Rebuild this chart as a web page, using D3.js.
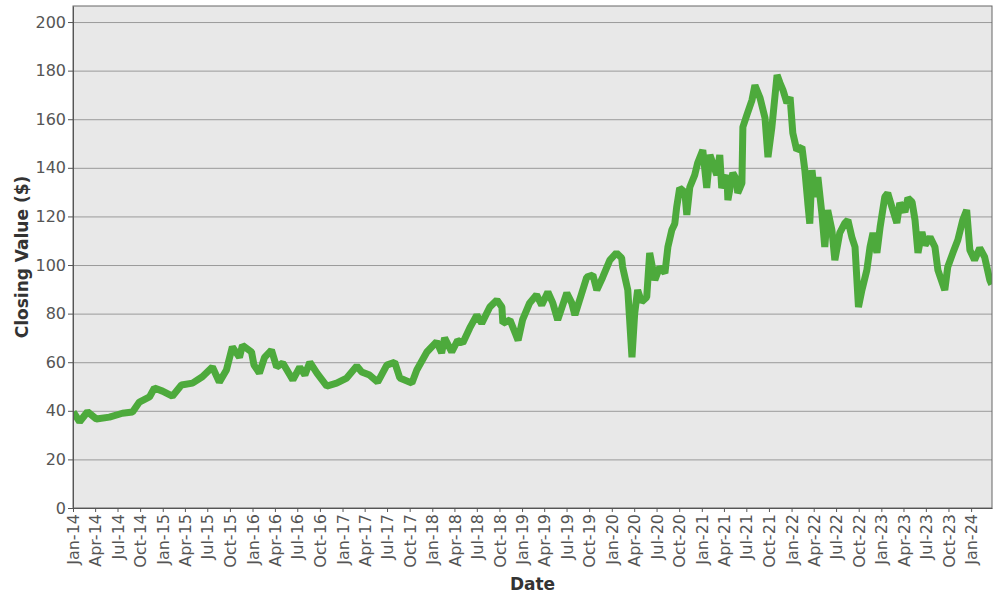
<!DOCTYPE html>
<html>
<head>
<meta charset="utf-8">
<script src="https://cdn.jsdelivr.net/npm/d3@7"></script>
<style>
  body { margin: 0; background: #fff; }
  .grid line { stroke: #9a9a9a; stroke-width: 1; }
  .grid path { stroke: none; }
  .axis text { font-family: "DejaVu Sans", sans-serif; font-size: 16px; fill: #555; }
  .axis path, .axis line { stroke: #555; }
  .title { font-family: "DejaVu Sans", sans-serif; font-size: 17px; font-weight: bold; fill: #333; }
  .line { fill: none; stroke: #4daa3c; stroke-width: 7; stroke-linejoin: bevel; }
</style>
</head>
<body>
<div id="graph"></div>
<script>
// closing values
var dates = [
  "2014-01-02", "2014-01-28", "2014-03-01", "2014-04-06", "2014-05-29", "2014-07-21", "2014-08-31",
  "2014-09-28", "2014-11-08", "2014-11-28", "2014-12-31", "2015-02-09", "2015-03-18", "2015-05-02",
  "2015-06-11", "2015-07-22", "2015-08-19", "2015-09-17", "2015-10-11", "2015-11-09", "2015-11-21",
  "2015-12-28", "2016-01-07", "2016-01-29", "2016-02-19", "2016-03-18", "2016-04-08", "2016-05-03",
  "2016-06-13", "2016-07-11", "2016-08-01", "2016-08-21", "2016-09-19", "2016-10-29", "2016-12-08",
  "2017-01-18", "2017-02-28", "2017-03-20", "2017-04-21", "2017-05-24", "2017-06-30", "2017-08-01",
  "2017-08-22", "2017-10-10", "2017-10-30", "2017-12-10", "2018-01-19", "2018-02-08", "2018-02-20",
  "2018-03-21", "2018-04-14", "2018-05-05", "2018-06-02", "2018-07-01", "2018-07-21", "2018-08-23",
  "2018-09-21", "2018-10-11", "2018-10-15", "2018-11-13", "2018-12-04", "2018-12-16", "2019-01-03",
  "2019-02-01", "2019-03-01", "2019-03-22", "2019-04-16", "2019-05-06", "2019-05-26", "2019-07-02",
  "2019-07-22", "2019-08-04", "2019-09-01", "2019-09-21", "2019-10-16", "2019-11-01", "2019-11-25",
  "2019-12-24", "2020-01-20", "2020-02-10", "2020-02-14", "2020-03-06", "2020-03-23", "2020-04-03",
  "2020-04-15", "2020-05-01", "2020-05-22", "2020-06-03", "2020-06-24", "2020-07-14", "2020-08-04",
  "2020-08-16", "2020-09-01", "2020-09-13", "2020-09-21", "2020-10-03", "2020-10-24", "2020-11-01",
  "2020-11-13", "2020-12-03", "2020-12-15", "2021-01-05", "2021-01-21", "2021-02-03", "2021-03-03",
  "2021-03-15", "2021-03-23", "2021-04-13", "2021-04-17", "2021-05-07", "2021-05-23", "2021-05-27",
  "2021-06-13", "2021-06-17", "2021-07-03", "2021-07-24", "2021-08-05", "2021-08-26", "2021-09-15",
  "2021-09-27", "2021-10-13", "2021-11-03", "2021-11-15", "2021-11-27", "2021-12-13", "2021-12-26",
  "2022-01-06", "2022-01-22", "2022-02-12", "2022-02-24", "2022-03-08", "2022-03-16", "2022-03-25",
  "2022-04-06", "2022-04-18", "2022-05-04", "2022-05-16", "2022-05-28", "2022-06-14", "2022-06-26",
  "2022-07-16", "2022-08-06", "2022-08-18", "2022-09-03", "2022-09-16", "2022-09-30", "2022-10-14",
  "2022-11-03", "2022-11-16", "2022-11-28", "2022-12-14", "2022-12-27", "2023-01-15", "2023-01-27",
  "2023-02-13", "2023-03-05", "2023-03-17", "2023-04-07", "2023-04-19", "2023-05-06", "2023-05-18",
  "2023-05-30", "2023-06-15", "2023-06-28", "2023-07-18", "2023-08-07", "2023-08-19", "2023-09-16",
  "2023-09-28", "2023-10-19", "2023-11-08", "2023-11-28", "2023-12-14", "2023-12-27", "2024-01-15",
  "2024-02-05", "2024-02-25", "2024-03-17", "2024-03-25"
];
var closes = [
  39.5, 35.5, 39.6, 36.6, 37.4, 39.0, 39.5,
  43.6, 45.7, 49.4, 48.1, 46.0, 50.6, 51.4,
  54.0, 58.0, 51.8, 56.8, 66.3, 62.0, 67.0,
  64.2, 58.8, 55.5, 62.0, 65.0, 58.0, 59.7,
  52.7, 58.0, 54.7, 60.0, 55.5, 50.2, 51.4,
  53.5, 58.4, 56.0, 54.7, 51.8, 58.8, 60.0,
  53.5, 51.4, 56.8, 64.2, 68.5, 63.8, 70.0,
  64.2, 69.0, 67.9, 74.0, 79.4, 76.0, 82.7,
  85.6, 82.7, 76.0, 77.4, 72.0, 69.0, 77.4,
  84.4, 87.7, 83.5, 88.9, 84.4, 77.4, 88.5,
  84.4, 79.4, 88.5, 95.0, 95.9, 89.7, 95.0,
  102.0, 105.0, 102.9, 99.2, 89.7, 62.0, 80.0,
  89.7, 84.8, 86.8, 105.0, 93.8, 99.2, 96.7,
  107.4, 114.4, 117.0, 124.0, 131.7, 130.0, 120.6,
  132.0, 137.0, 142.0, 147.3, 131.7, 145.3, 137.0,
  145.3, 131.7, 137.0, 126.7, 137.9, 135.0, 129.6,
  133.7, 156.8, 161.7, 167.9, 174.0, 168.7, 160.5,
  144.4, 156.8, 178.2, 174.9, 172.0, 166.7, 169.0,
  154.3, 147.3, 148.6, 139.0, 125.5, 117.0, 139.0,
  128.0, 136.2, 121.4, 107.4, 122.6, 114.4, 102.0,
  113.2, 117.3, 118.5, 111.5, 107.4, 82.7, 89.7,
  97.9, 107.4, 113.2, 105.0, 115.6, 128.0, 129.6,
  123.9, 117.3, 125.5, 121.8, 127.6, 125.9, 118.5,
  105.0, 113.6, 108.2, 111.5, 107.4, 97.9, 89.7,
  99.2, 105.0, 110.3, 118.5, 122.6, 106.2, 102.0,
  107.0, 103.3, 93.8, 92.0
];
var yTicks = [0, 20, 40, 60, 80, 100, 120, 140, 160, 180, 200];
var xStart = "2014-01-01", xEnd = "2024-03-26";

var margin = { top: 6, right: 8, bottom: 92, left: 73 },
    width = 1000 - margin.left - margin.right,
    height = 600 - margin.top - margin.bottom;

var svg = d3.select("#graph")
    .append("svg")
    .attr("width", 1000)
    .attr("height", 600)
    .append("g")
    .attr("transform", "translate(" + margin.left + "," + margin.top + ")");

var parseDate = d3.timeParse("%Y-%m-%d");
var data = dates.map(function (d, i) {
    return { date: parseDate(d), close: closes[i] };
});

var x = d3.scaleTime()
    .domain([parseDate(xStart), parseDate(xEnd)])
    .range([0, width]);

var y = d3.scaleLinear()
    .domain([0, 206.6])
    .range([height, 0]);

// panel background
svg.append("rect")
    .attr("width", width)
    .attr("height", height)
    .attr("fill", "#e8e8e8");

// Y grid
svg.append("g")
    .attr("class", "grid")
    .call(d3.axisLeft(y)
        .tickValues(yTicks)
        .tickSize(-width)
        .tickFormat("")
    );

// the line, clipped to the panel
svg.append("clipPath")
    .attr("id", "clip")
    .append("rect")
    .attr("width", width)
    .attr("height", height);

svg.append("path")
    .datum(data)
    .attr("class", "line")
    .attr("clip-path", "url(#clip)")
    .attr("d", d3.line()
        .x(function (d) { return x(d.date); })
        .y(function (d) { return y(d.close); })
    );

// panel border
svg.append("rect")
    .attr("width", width)
    .attr("height", height)
    .attr("fill", "none")
    .attr("stroke", "#666");

// X axis
svg.append("g")
    .attr("class", "axis")
    .attr("transform", "translate(0," + height + ")")
    .call(d3.axisBottom(x)
        .ticks(d3.timeMonth.every(3))
        .tickFormat(d3.timeFormat("%b-%y"))
        .tickSize(4)
        .tickSizeOuter(0)
    )
    .selectAll("text")
    .attr("transform", "rotate(-90)")
    .attr("text-anchor", "end")
    .attr("x", -6)
    .attr("y", 0)
    .attr("dy", "0.35em");

// Y axis
svg.append("g")
    .attr("class", "axis")
    .call(d3.axisLeft(y)
        .tickValues(yTicks)
        .tickSize(5)
        .tickPadding(2)
        .tickSizeOuter(0)
    );

// axis titles
svg.append("text")
    .attr("class", "title")
    .attr("text-anchor", "middle")
    .attr("transform", "translate(" + (-45) + "," + (height / 2) + ") rotate(-90)")
    .text("Closing Value ($)");

svg.append("text")
    .attr("class", "title")
    .attr("text-anchor", "middle")
    .attr("x", width / 2)
    .attr("y", height + 82)
    .text("Date");
</script>
</body>
</html>
